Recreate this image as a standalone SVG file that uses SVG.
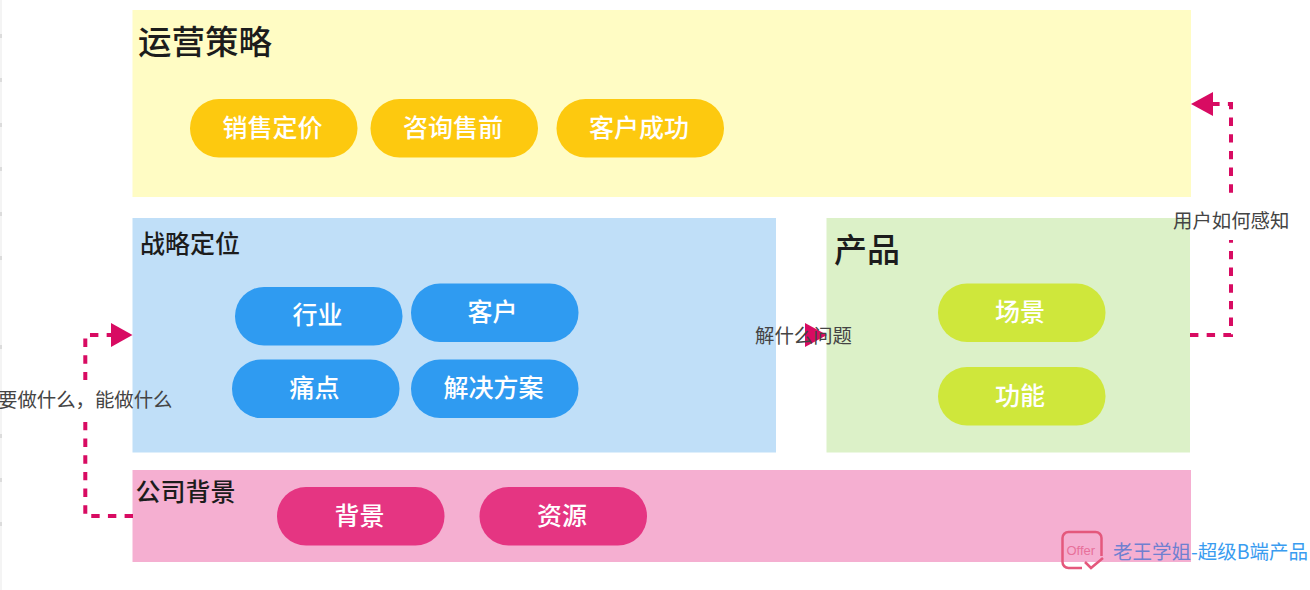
<svg xmlns="http://www.w3.org/2000/svg" width="1310" height="590" viewBox="0 0 1310 590">
<defs>
<style>
text{font-family:"Noto Sans CJK SC","Liberation Sans",sans-serif}
.title{fill:#1c1c1c;font-weight:500}
.pill{font-size:25px;font-weight:500;fill:#fff;text-anchor:middle}
.lab{font-size:19.4px;fill:#444}
.conn{fill:none;stroke:#d80b62;stroke-width:4;stroke-dasharray:8.4 8.27}
.head{fill:#d80b62}
.tick{fill:#dcdcdc}
.gap{fill:#fff}
</style>
</defs>
<rect width="1310" height="590" fill="#fff"/>
<rect x="0" y="0" width="2" height="590" fill="#f4f4f4"/>
<g class="tick"><rect y="34" width="2" height="4"/><rect y="78" width="2" height="4"/><rect y="123" width="2" height="4"/><rect y="167" width="2" height="4"/><rect y="212" width="2" height="4"/><rect y="256" width="2" height="4"/><rect y="345" width="2" height="4"/><rect y="434" width="2" height="4"/><rect y="478" width="2" height="4"/><rect y="522" width="2" height="4"/></g>
<g id="node-ops">
<rect x="132.500" y="10" width="1058.500" height="187" fill="#fffcc4"/>
<text class="title" x="138" y="54" font-size="33.500">运营策略</text>
<rect x="190" y="99" width="167.500" height="58.500" rx="29" fill="#fdc90f"/><text class="pill" x="272.500" y="136.500">销售定价</text>
<rect x="370.500" y="99" width="167.500" height="58.500" rx="29" fill="#fdc90f"/><text class="pill" x="453" y="136.500">咨询售前</text>
<rect x="556.500" y="99" width="167.500" height="58.500" rx="29" fill="#fdc90f"/><text class="pill" x="639" y="136.500">客户成功</text>
</g>
<g id="node-strategy">
<rect x="132.500" y="218" width="643.500" height="234.500" fill="#c0dff8"/>
<text class="title" x="140" y="252.500" font-size="25">战略定位</text>
<rect x="235" y="287" width="167.500" height="58.500" rx="29" fill="#2f9bf1"/><text class="pill" x="317.500" y="324">行业</text>
<rect x="411" y="283.500" width="167.500" height="58.500" rx="29" fill="#2f9bf1"/><text class="pill" x="492.500" y="321">客户</text>
<rect x="232" y="359.500" width="167.500" height="58.500" rx="29" fill="#2f9bf1"/><text class="pill" x="314.500" y="397">痛点</text>
<rect x="411" y="359.500" width="167.500" height="58.500" rx="29" fill="#2f9bf1"/><text class="pill" x="493.500" y="397">解决方案</text>
</g>
<g id="node-product">
<rect x="826.500" y="218" width="363.500" height="234.500" fill="#dcf1c8"/>
<text class="title" x="834" y="262" font-size="33">产品</text>
<rect x="938" y="283.500" width="167.500" height="58.500" rx="29" fill="#cfe73b"/><text class="pill" x="1020" y="321">场景</text>
<rect x="938" y="367" width="167.500" height="58.500" rx="29" fill="#cfe73b"/><text class="pill" x="1020" y="405">功能</text>
</g>
<g id="node-company">
<rect x="132.500" y="470" width="1058.500" height="92" fill="#f5afd1"/>
<text class="title" x="135.500" y="500.500" font-size="25">公司背景</text>
<rect x="277" y="487" width="167.500" height="58.500" rx="29" fill="#e53582"/><text class="pill" x="359.500" y="524.500">背景</text>
<rect x="479.500" y="487" width="167.500" height="58.500" rx="29" fill="#e53582"/><text class="pill" x="562" y="524.500">资源</text>
</g>
<g id="connectors">
<path class="conn" d="M133 516H85.300V335H111"/>
<rect class="gap" x="80" y="380" width="11" height="41"/>
<path class="head" d="M111 323L132.500 335L111 347Z"/>
<path class="conn" d="M1190 335H1231V104H1212"/>
<rect class="gap" x="1226" y="193.500" width="10" height="46.500"/>
<path class="head" d="M1191 104L1213 92V116Z"/>
<path class="head" d="M805 323L827 335L805 347Z"/>
</g>
<g id="labels">
<text class="lab" x="-2" y="407">要做什么，能做什么</text>
<text class="lab" x="755" y="343">解什么问题</text>
<text class="lab" x="1173" y="228">用户如何感知</text>
</g>
<g id="watermark">
<path d="M1101.500 556V538a6 6 0 0 0-6-6H1068.500a6 6 0 0 0-6 6V562a6 6 0 0 0 6 6H1082" fill="none" stroke="#e4587c" stroke-width="2.500"/>
<path d="M1085 562L1091 568L1103 558" fill="none" stroke="#e4587c" stroke-width="2.500"/>
<text x="1066.500" y="555" font-size="13" fill="#e8709a" style="font-family:'Liberation Sans',sans-serif">Offer</text>
<text x="1113" y="559" font-size="19.500" fill="#3a9cf0"><tspan fill="#6f80d0">老王学姐</tspan>-超级B端产品</text>
</g>
</svg>
